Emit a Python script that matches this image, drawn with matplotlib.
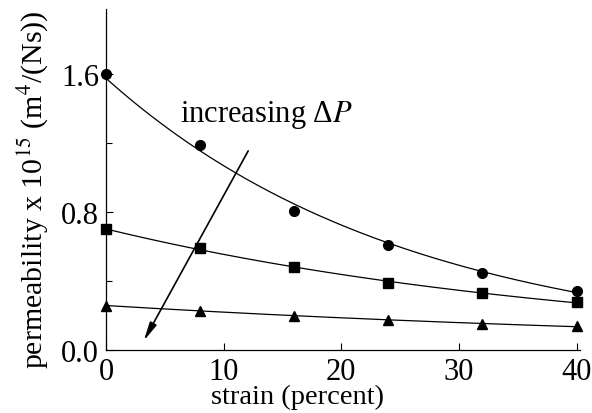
import numpy as np
import matplotlib
matplotlib.use("Agg")
import matplotlib.pyplot as plt

strain = [0, 8, 16, 24, 32, 40]
perm_circle = [1.60, 1.19, 0.81, 0.61, 0.45, 0.345]
perm_square = [0.70, 0.59, 0.485, 0.39, 0.33, 0.277]
perm_triangle = [0.258, 0.229, 0.20, 0.176, 0.15, 0.138]
xticks = [0, 10, 20, 30, 40]
yticks = [0.0, 0.8, 1.6]
ytick_labels = ["0.0", "0.8", "1.6"]

plt.rcParams['font.family'] = ['Liberation Serif', 'DejaVu Serif']
plt.rcParams['mathtext.fontset'] = 'stix'

fig = plt.figure(figsize=(5.92, 4.14), dpi=100)
ax = fig.add_axes([0.179, 0.152, 0.801, 0.824])

xs = np.array(strain, dtype=float)
xx = np.linspace(0, 40, 200)
for vals, m, ms in [(perm_circle, 'o', 7), (perm_square, 's', 7), (perm_triangle, '^', 7)]:
    ys = np.array(vals)
    b, a = np.polyfit(xs, np.log(ys), 1)
    ax.plot(xx, np.exp(a + b * xx), color='black', lw=0.9)
    ax.plot(xs, ys, linestyle='none', marker=m, color='black', markersize=ms, clip_on=False, zorder=3)

ax.annotate('', xy=(3.1, 0.04), xytext=(12.2, 1.17),
            arrowprops=dict(arrowstyle='-|>,head_length=1.1,head_width=0.22', color='black', lw=1.2))
ax.text(6.3, 1.37, 'increasing Δ$\\it{P}$', fontsize=22, va='center', ha='left')

ax.set_xlim(0, 40.3)
ax.set_ylim(0, 1.98)
ax.set_xticks(xticks)
ax.set_yticks(yticks)
ax.set_yticklabels(ytick_labels)
ax.set_yticks([0.4, 1.2], minor=True)
ax.tick_params(axis='both', which='both', direction='in', labelsize=22, width=0.8)
ax.tick_params(axis='both', which='major', length=5)
ax.tick_params(axis='x', which='major', pad=5)
ax.tick_params(axis='y', which='major', pad=5)
ax.tick_params(axis='both', which='minor', length=4)
for s in ['top', 'right']:
    ax.spines[s].set_visible(False)
for s in ['left', 'bottom']:
    ax.spines[s].set_linewidth(0.9)

ax.set_xlabel('strain (percent)', fontsize=20.5)
ax.xaxis.set_label_coords(0.403, -0.1)
ax.set_ylabel('permeability x 10$^{15}$ (m$^4$/(Ns))', fontsize=21.5)
ax.yaxis.set_label_coords(-0.115, 0.472)

fig.savefig('out.png', dpi=100)
